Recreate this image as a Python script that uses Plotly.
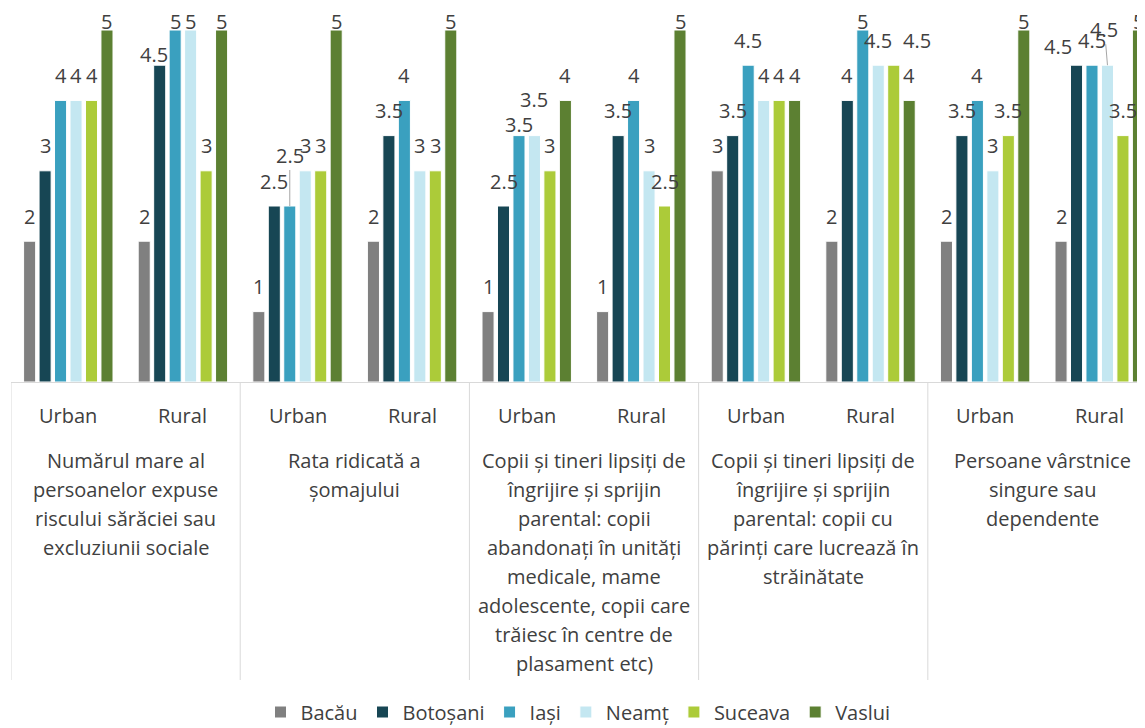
import plotly.graph_objects as go

groups = [
    ["Numărul mare al", "persoanelor expuse", "riscului sărăciei sau", "excluziunii sociale"],
    ["Rata ridicată a", "șomajului"],
    ["Copii și tineri lipsiți de", "îngrijire și sprijin", "parental: copii", "abandonați în unități",
     "medicale, mame", "adolescente, copii care", "trăiesc în centre de", "plasament etc)"],
    ["Copii și tineri lipsiți de", "îngrijire și sprijin", "parental: copii cu",
     "părinți care lucrează în", "străinătate"],
    ["Persoane vârstnice", "singure sau", "dependente"],
]
areas = ["Urban", "Rural"]

counties = ["Bacău", "Botoșani", "Iași", "Neamț", "Suceava", "Vaslui"]
colors = ["#808080", "#174654", "#3aa0bf", "#c4e7f1", "#accb39", "#5c8032"]

# one list per county, order: g1 Urban, g1 Rural, g2 Urban, ... g5 Rural
bacau    = [2, 2, 1, 2, 1, 1, 3, 2, 2, 2]
botosani = [3, 4.5, 2.5, 3.5, 2.5, 3.5, 3.5, 4, 3.5, 4.5]
iasi     = [4, 5, 2.5, 4, 3.5, 4, 4.5, 5, 4, 4.5]
neamt    = [4, 5, 3, 3, 3.5, 3, 4, 4.5, 3, 4.5]
suceava  = [4, 3, 3, 3, 3, 2.5, 4, 4.5, 3.5, 3.5]
vaslui   = [5, 5, 5, 5, 4, 5, 4, 4, 5, 5]
values = [bacau, botosani, iasi, neamt, suceava, vaslui]

cats = [f"G{g+1} {a}" for g in range(len(groups)) for a in areas]

FONT = "Open Sans"
TXT = "#404040"
SIZE = 20
BARGAP = 0.19

# label nudges (category, series) -> (dx px, height above bar top px, leader line)
nudge = {
    (1, 1): (-6, 11, False),
    (2, 2): (0, 51, True),
    (4, 2): (0, 11, False),
    (4, 3): (0, 36, False),
    (7, 4): (23, 25, False),
    (9, 1): (-19, 19, False),
    (9, 3): (-3, 36, True),
}

fig = go.Figure()
for name, col, vals in zip(counties, colors, values):
    fig.add_trace(go.Bar(
        x=cats, y=vals, name=name,
        marker=dict(color=col, line=dict(color="white", width=1)),
    ))

# data labels
slot = (1 - BARGAP) / len(counties)
for k, vals in enumerate(values):
    for c, v in enumerate(vals):
        xpos = c - (1 - BARGAP) / 2 + slot * (k + 0.5)
        dx, dy, lead = nudge.get((c, k), (0, 9 if v == 5 else 25, False))
        font = dict(family=FONT, size=SIZE, color=TXT)
        if lead:
            fig.add_annotation(x=xpos, y=v, xref="x", yref="y", text=f"{v:g}",
                               showarrow=True, arrowhead=0, arrowwidth=1,
                               arrowcolor="#a6a6a6", ax=dx, ay=-dy, standoff=0,
                               font=font)
        else:
            fig.add_annotation(x=xpos, y=v, xref="x", yref="y", text=f"{v:g}",
                               showarrow=False, xshift=dx, yshift=dy,
                               yanchor="middle", font=font)

plot_h = 352
def py(px):
    # pixel offset below the axis -> paper coords
    return -px / plot_h

shapes = []
for i in range(len(groups)):
    shapes.append(dict(type="line", xref="x", yref="paper",
                       x0=i * 2 - 0.5, x1=i * 2 - 0.5, y0=0, y1=py(298),
                       line=dict(color="#d9d9d9", width=1)))
fig.update_layout(shapes=shapes)

for c, lab in zip(cats, [a for _ in groups for a in areas]):
    fig.add_annotation(x=c, y=py(33), xref="x", yref="paper", text=lab,
                       showarrow=False, yanchor="middle",
                       font=dict(family=FONT, size=SIZE, color=TXT))

for i, lines in enumerate(groups):
    for j, line in enumerate(lines):
        fig.add_annotation(x=i * 2 + 0.5, y=py(78.5 + 29 * j), xref="x", yref="paper",
                           text=line, showarrow=False, yanchor="middle",
                           font=dict(family=FONT, size=SIZE, color=TXT))

fig.update_layout(
    width=1137, height=720,
    margin=dict(l=3, r=0, t=22, b=346),
    plot_bgcolor="white", paper_bgcolor="white",
    barmode="group", bargap=BARGAP, bargroupgap=0.22,
    showlegend=True,
    legend=dict(orientation="h", x=0.5, xanchor="center",
                yref="container", y=16 / 720, yanchor="middle",
                font=dict(family=FONT, size=SIZE, color=TXT), itemwidth=30,
                traceorder="normal"),
)
fig.update_xaxes(range=[-0.5, 9.395], showticklabels=False, showline=True,
                 linecolor="#d9d9d9", linewidth=1, showgrid=False, ticks="")
fig.update_yaxes(range=[0, 5], visible=False, showgrid=False)

fig.write_html("out.html")
